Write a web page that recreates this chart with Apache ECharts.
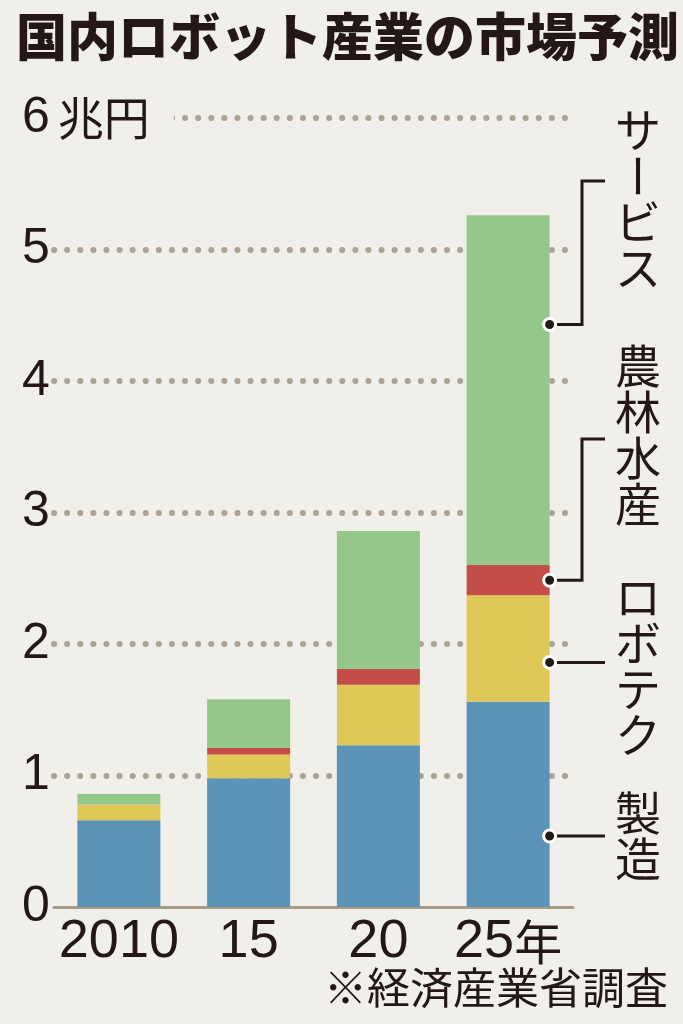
<!DOCTYPE html>
<html>
<head>
<meta charset="utf-8">
<script src="https://cdn.jsdelivr.net/npm/echarts@6/dist/echarts.min.js"></script>
<style>
html,body{margin:0;padding:0;background:#f0efea;}
#main{width:683px;height:1024px;}
</style>
</head>
<body>
<div id="main"></div>
<script>
// データ（兆円）
var years = ['2010', '15', '20', '25年'];
var seizo = [0.66, 0.98, 1.23, 1.56];
var robotech = [0.12, 0.18, 0.46, 0.81];
var nourin = [0, 0.05, 0.12, 0.23];
var service = [0.08, 0.37, 1.05, 2.66];
var yTicks = ['0', '1', '2', '3', '4', '5', '6兆円'];
var names = ['製造', 'ロボテク', '農林水産', 'サービス'];
var colors = ['#5b93b9', '#dfc858', '#c44d47', '#94c78a'];
// 引き出し線が25年の棒にあたる高さ
var pointAt = [0.54, 1.86, 2.485, 4.43];

var bg = '#f0efea';
var ink = '#231815';
var numFont = '"Liberation Sans", Arial, sans-serif';
var jpFont = '"Noto Sans CJK JP", sans-serif';
var barW = 83;

var chart = echarts.init(document.getElementById('main'));

var series = [seizo, robotech, nourin, service].map(function (d, i) {
    return {
        name: names[i],
        type: 'bar',
        stack: 'all',
        barWidth: barW,
        itemStyle: { color: colors[i] },
        data: d
    };
});

chart.setOption({
    animation: false,
    backgroundColor: bg,
    title: {
        text: '国内ロボット産業の市場予測',
        left: 11,
        top: 6,
        textStyle: { fontFamily: jpFont, fontWeight: 900, fontSize: 51, color: ink }
    },
    grid: { left: 54, right: 110, top: 118, bottom: 117 },
    xAxis: {
        type: 'category',
        data: years,
        axisLine: { lineStyle: { color: '#a89c88', width: 3 } },
        axisTick: { show: false },
        axisLabel: {
            margin: 8,
            formatter: function (v) {
                var m = v.match(/^(\d+)(.*)$/);
                return m[2] ? '{n|' + m[1] + '}{u|' + m[2] + '}' : '{n|' + v + '}';
            },
            rich: {
                n: { fontFamily: numFont, fontSize: 54, color: ink },
                u: { fontFamily: jpFont, fontSize: 48, color: ink }
            }
        }
    },
    yAxis: {
        type: 'value',
        min: 0,
        max: 6,
        interval: 1,
        axisLine: { show: false },
        axisTick: { show: false },
        splitLine: {
            showMinLine: false,
            lineStyle: { color: '#ada394', width: 6, type: [0.1, 13], cap: 'round' }
        },
        axisLabel: {
            align: 'left',
            margin: 32,
            formatter: function (v) {
                var s = yTicks[Math.round(v)];
                var m = s.match(/^(\d+)(.*)$/);
                return m[2] ? '{n|' + m[1] + '}{u|' + m[2] + '}' : '{n|' + s + '}';
            },
            rich: {
                n: { fontFamily: numFont, fontSize: 50, color: ink },
                u: { fontFamily: jpFont, fontSize: 46, color: ink, backgroundColor: bg, padding: [0, 24, 0, 8] }
            }
        }
    },
    series: series
});

// 右側のラベルと引き出し線
var last = years.length - 1;
var dotX = chart.convertToPixel({ xAxisIndex: 0 }, years[last]) + barW / 2;
var lineEnd = 605;
var bendX = 582;
var labelX = 638;
var labelTop = [790, 574, 343, 107];
var bracketTop = [null, null, 439, 181];
var step = 46;
var g = [];

names.forEach(function (nm, i) {
    var py = chart.convertToPixel({ yAxisIndex: 0 }, pointAt[i]);
    var pts;
    if (bracketTop[i] == null) {
        pts = [[dotX, py], [lineEnd, py]];
    } else {
        pts = [[dotX, py], [bendX, py], [bendX, bracketTop[i]], [lineEnd, bracketTop[i]]];
    }
    g.push({
        type: 'polyline',
        shape: { points: pts },
        style: { stroke: ink, lineWidth: 3, fill: null },
        z: 10
    });
    g.push({
        type: 'circle',
        shape: { cx: dotX, cy: py, r: 6 },
        style: { fill: ink, stroke: '#ffffff', lineWidth: 3 },
        z: 11
    });
    nm.split('').forEach(function (ch, k) {
        g.push({
            type: 'text',
            x: labelX,
            y: labelTop[i] + step * k + step / 2,
            rotation: ch === 'ー' ? -Math.PI / 2 : 0,
            style: {
                text: ch,
                fontFamily: jpFont,
                fontSize: 46,
                fill: ink,
                align: 'center',
                verticalAlign: 'middle'
            },
            z: 10
        });
    });
});

g.push({
    type: 'text',
    right: 15,
    top: 966,
    style: { text: '※経済産業省調査', fontFamily: jpFont, fontSize: 43, fill: ink }
});

chart.setOption({ graphic: g });
</script>
</body>
</html>
